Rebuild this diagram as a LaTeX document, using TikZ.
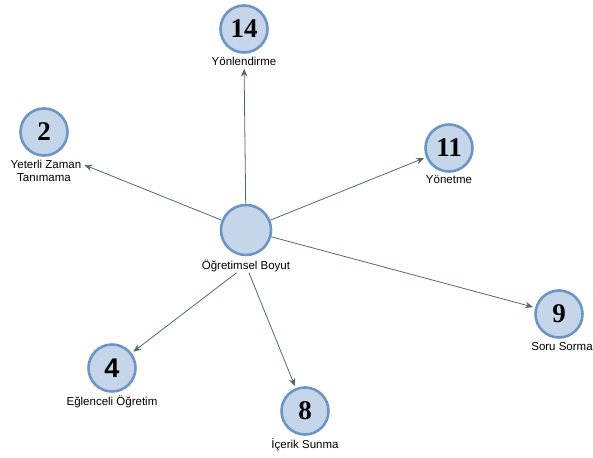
\documentclass[tikz,border=0pt]{standalone}
\usepackage{fontspec}
\setmainfont{Liberation Sans}
\newfontfamily\sayifont{Liberation Serif}
\usetikzlibrary{arrows.meta,positioning}
\definecolor{DaireDolgu}{HTML}{C6D6EA}
\definecolor{DaireKenar}{HTML}{6C95C6}
\definecolor{OkRenk}{HTML}{4E6E64}

\begin{document}
\begin{tikzpicture}[x=1pt,y=-1pt,
  daire/.style={circle,draw=DaireKenar,line width=2.6pt,fill=DaireDolgu,minimum size=47pt,inner sep=0pt,font=\sayifont\bfseries\fontsize{27}{27}\selectfont},
  etiket/.style={inner sep=1pt,align=center,font=\fontsize{11.5}{13}\selectfont},
  ok/.style={-{Stealth[length=8pt,width=6.5pt]},line width=0.8pt,OkRenk,shorten >=2pt}]
  \useasboundingbox (0,0) rectangle (593,457);
  \node[daire,minimum size=50pt] (boyut) at (246,230) {};
  \node[etiket,below=2pt of boyut] (boyutL) {Öğretimsel Boyut};
  \node[daire] (n14) at (244,29) {14};
  \node[etiket,below=2pt of n14] (n14L) {Yönlendirme};
  \node[daire] (n2) at (44,132) {2};
  \node[etiket,below=2pt of n2,xshift=2pt,text depth=0pt] (n2L) {Yeterli Zaman};
  \node[etiket,below=3pt of n2L,xshift=-2pt] (n2L2) {Tanımama};
  \node[daire] (n11) at (449,148) {11};
  \node[etiket,below=2pt of n11] (n11L) {Yönetme};
  \node[daire] (n9) at (559,314) {9};
  \node[etiket,below=2pt of n9,xshift=3pt] (n9L) {Soru Sorma};
  \node[daire,font=\bfseries\fontsize{27}{27}\selectfont] (n4) at (112,368) {4};
  \node[etiket,below=2pt of n4] (n4L) {Eğlenceli Öğretim};
  \node[daire] (n8) at (305,411) {8};
  \node[etiket,below=2pt of n8] (n8L) {İçerik Sunma};
  \draw[ok] (boyut) -- (n14L);
  \draw[ok] (boyut) -- (n2L.east);
  \draw[ok] (boyut) -- (n11);
  \draw[ok] (boyut) -- (n9);
  \draw[ok] (boyutL) -- (n4);
  \draw[ok] (boyutL) -- (n8);
\end{tikzpicture}
\end{document}
